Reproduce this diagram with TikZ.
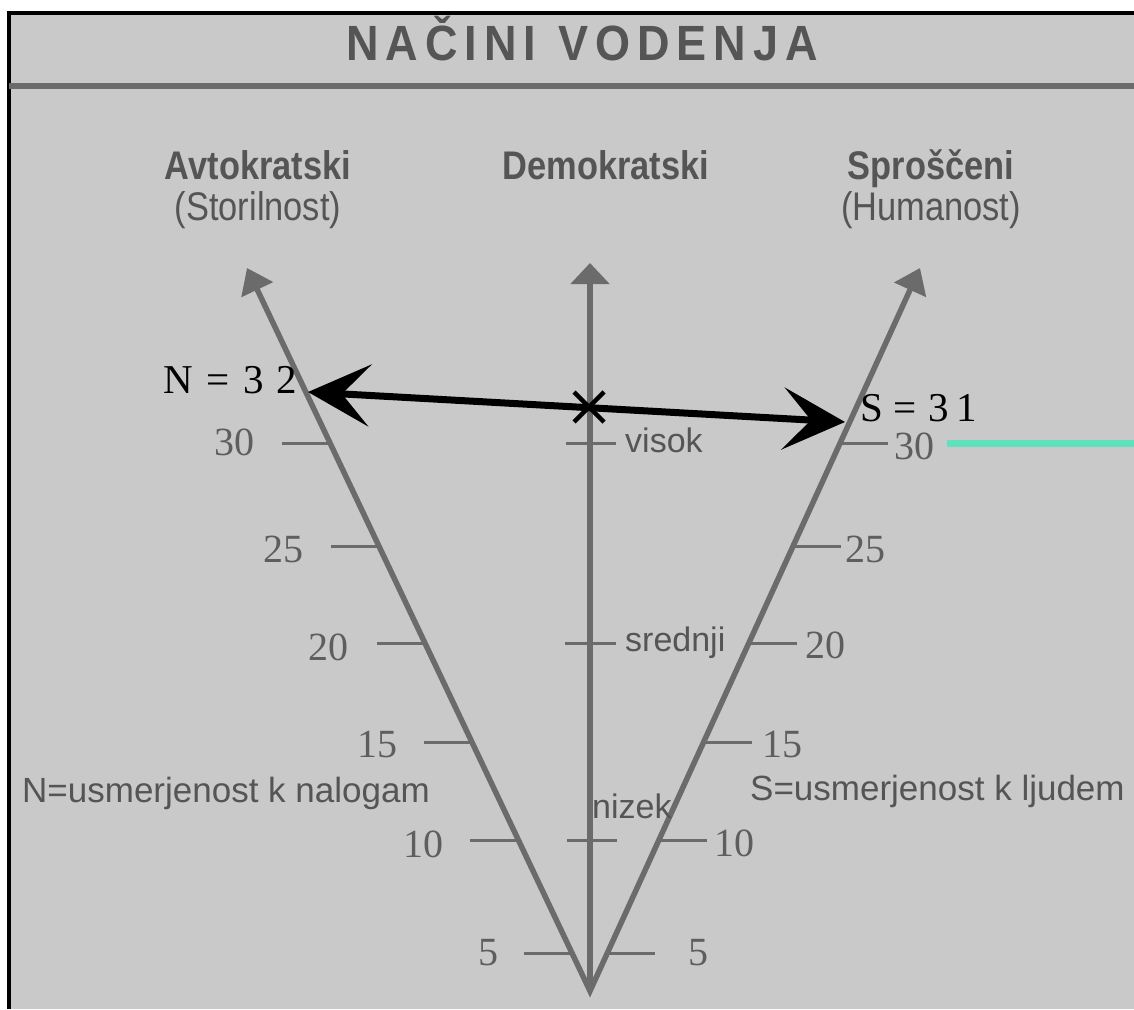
\documentclass[tikz,border=0pt]{standalone}
\usepackage{fontspec}
\setmainfont{Liberation Sans}
\newfontfamily\serifnum{Liberation Serif}
\usetikzlibrary{arrows.meta,calc}
\definecolor{bg}{HTML}{C9C9C9}
\definecolor{axisgray}{HTML}{6B6B6B}
\definecolor{txtgray}{HTML}{555555}
\definecolor{numgray}{HTML}{5E5E5E}
\definecolor{cyanline}{HTML}{5FE1BE}
\newcommand{\tallhead}[1]{\scalebox{0.93}[1.08]{#1}}
\begin{document}
\begin{tikzpicture}[x=1pt,y=-1pt,
  axis/.style={draw=axisgray,line width=5.5pt},
  tickline/.style={draw=axisgray,line width=3pt},
  numlbl/.style={text=numgray,font=\serifnum\fontsize{40}{40}\selectfont,inner sep=0pt,anchor=center},
  headb/.style={text=txtgray,font=\bfseries\fontsize{37}{37}\selectfont,inner sep=0pt,anchor=base},
  headr/.style={text=txtgray,font=\fontsize{37}{37}\selectfont,inner sep=0pt,anchor=base},
  sidelbl/.style={text=txtgray,font=\fontsize{35}{35}\selectfont,inner sep=0pt,anchor=base west},
  levlbl/.style={text=txtgray,font=\fontsize{34}{34}\selectfont,inner sep=0pt,anchor=base west},
  vallbl/.style={text=black,font=\serifnum\fontsize{41}{41}\selectfont,inner sep=0pt,anchor=base west},
  bigtip/.tip={Stealth[length=62pt,width=62pt,inset=28pt]},
  axtip/.tip={Triangle[length=24pt,width=34pt]}
]
\useasboundingbox (0,0) rectangle (1134,1009);
\fill[white] (0,0) rectangle (1134,1009);
\fill[bg] (9,13) rectangle (1134,1009);
\draw[black,line width=4pt] (9,1009) -- (9,13) -- (1134,13);
% title
\draw[draw=axisgray,line width=6pt] (9,86) -- (1134,86);
\node[text=txtgray,font=\bfseries\fontsize{45}{45}\selectfont,inner sep=0pt,anchor=base] (title) at (582,60)
 {\scalebox{1}[1.1]{N\hspace{7pt}A\hspace{7pt}Č\hspace{7pt}I\hspace{7pt}N\hspace{7pt}I\hspace{22pt}V\hspace{7pt}O\hspace{7pt}D\hspace{7pt}E\hspace{7pt}N\hspace{7pt}J\hspace{7pt}A}};
% headers
\node[headb] (avt) at (258,179) {\tallhead{Avtokratski}};
\node[headr] (sto) at (258,220) {\tallhead{(Storilnost)}};
\node[headb] (dem) at (606,179) {\tallhead{Demokratski}};
\node[headb] (spr) at (931,179) {\tallhead{Sproščeni}};
\node[headr] (hum) at (931,220) {\tallhead{(Humanost)}};
% axes
\coordinate (V) at (590,991);
\coordinate (Lt) at (247,268);
\coordinate (Ct) at (590,263);
\coordinate (Rt) at (920,268);
\draw[axis,line join=miter,miter limit=20,{axtip}-{axtip}] (Lt) -- (V) -- (Rt);
\draw[axis,-{Triangle[length=21pt,width=38pt]}] (V) -- (Ct);
% left and right ticks
\foreach \yy/\nm in {443/30,546/25,643/20,742/15,840/10,953/5}{
  \coordinate (L\nm) at ($(V)!{(991-\yy)/723}!(Lt)$);
  \draw[tickline] (L\nm) -- ++(-48,0);
  \coordinate (R\nm) at ($(V)!{(991-\yy)/723}!(Rt)$);
  \draw[tickline] (R\nm) -- ++(48,0);
}
% centre ticks
\draw[tickline] (566,443) -- (616,443);
\draw[tickline] (565,643) -- (616,643);
\draw[tickline] (567,840) -- (617,840);
% left numbers
\node[numlbl] (n30) at (234,442) {30};
\node[numlbl] (n25) at (283,549) {25};
\node[numlbl] (n20) at (328,647) {20};
\node[numlbl] (n15) at (377,744) {15};
\node[numlbl] (n10) at (423,844) {10};
\node[numlbl] (n5) at (488,953) {5};
% right numbers
\node[numlbl] (s30) at (914,446) {30};
\node[numlbl] (s25) at (865,549) {25};
\node[numlbl] (s20) at (825,645) {20};
\node[numlbl] (s15) at (782,744) {15};
\node[numlbl] (s10) at (734,843) {10};
\node[numlbl] (s5) at (698,953) {5};
% level labels
\node[levlbl] (vis) at (625,452) {visok};
\node[levlbl] (sre) at (625,651) {srednji};
\node[levlbl] (niz) at (592,818) {nizek};
% side labels
\node[sidelbl] (nlab) at (22,802) {N=usmerjenost k nalogam};
\node[sidelbl] (slab) at (750,800) {S=usmerjenost k ljudem};
% values
\coordinate (Na) at (308,392);
\coordinate (Sa) at (845,422);
\draw[line width=7pt,{bigtip}-{bigtip}] (Na) -- (Sa);
\node[vallbl] (nval) at (163,393) {N\hspace{14pt}=\hspace{14pt}3\hspace{12pt}2};
\node[vallbl] (sval) at (860,421) {S\hspace{11pt}=\hspace{11pt}3\hspace{8pt}1};
\coordinate (X) at (589,407);
\draw[line width=4.5pt] ($(X)+(-15,-15)$) -- ($(X)+(15,15)$);
\draw[line width=4.5pt] ($(X)+(-15,15)$) -- ($(X)+(15,-15)$);
% cyan mark
\coordinate (C1) at (947,443);
\coordinate (C2) at (1134,443);
\draw[cyanline,line width=7pt] (C1) -- (C2);
\end{tikzpicture}
\end{document}
